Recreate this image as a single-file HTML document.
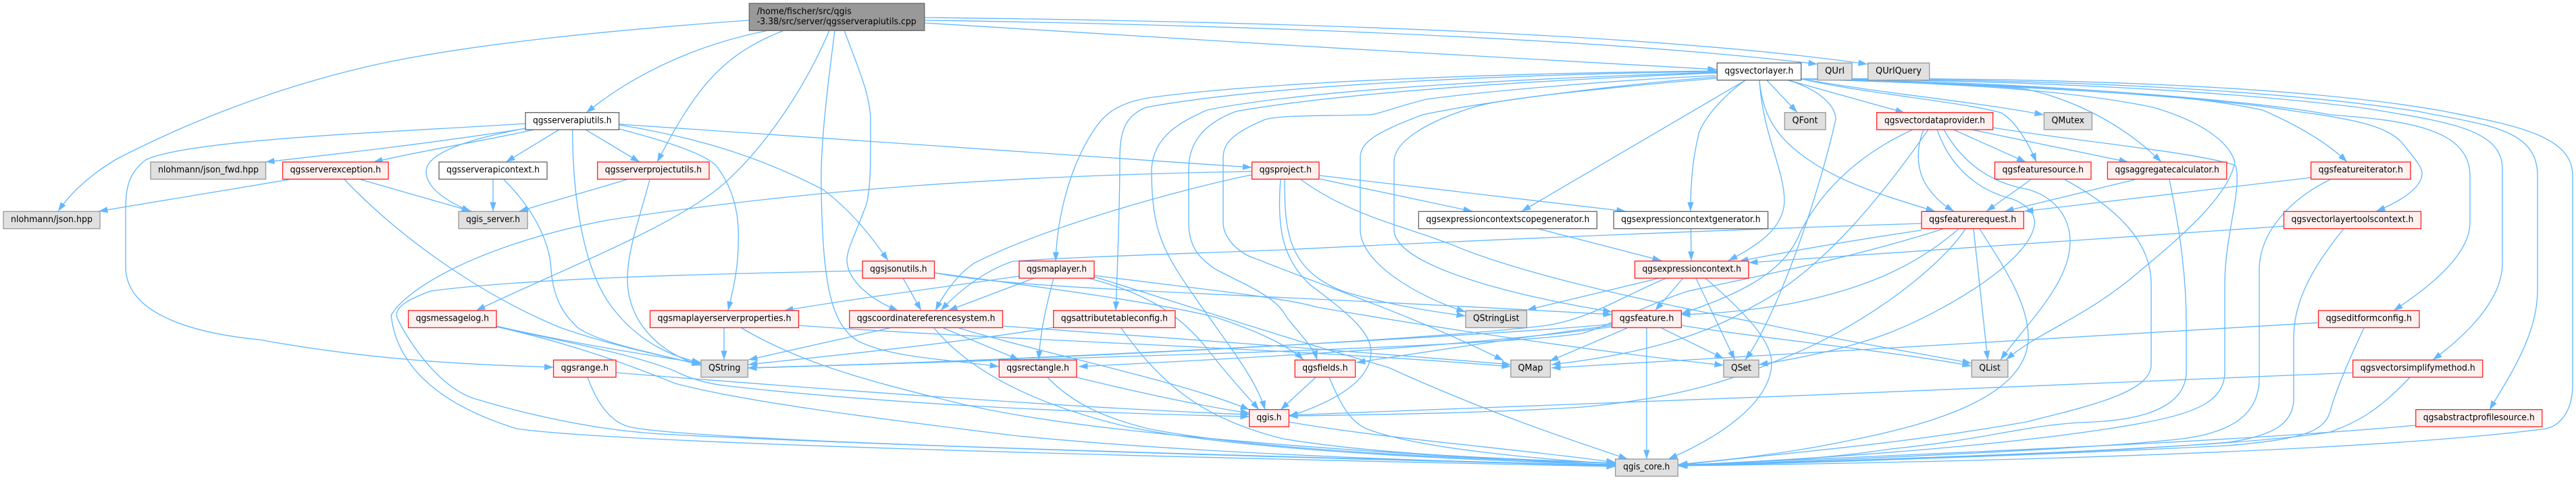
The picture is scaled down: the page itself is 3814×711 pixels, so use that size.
<!DOCTYPE html>
<html><head><meta charset="utf-8"><title>qgsserverapiutils.cpp include graph</title>
<style>
html,body{margin:0;padding:0;background:#fff}
svg{display:block}
.e path{fill:none;stroke:#63b8ff;stroke-width:1.33;marker-end:url(#a)}
rect{stroke-width:1.33}
.r{fill:#fff0f0;stroke:#ff2020}
.g{fill:#e0e0e0;stroke:#999}
.w{fill:#fff;stroke:#666}
.t{fill:#999;stroke:#666}
text{font-family:"DejaVu Sans","Liberation Sans",sans-serif;font-size:13px;fill:#000}
</style></head><body>
<svg xmlns="http://www.w3.org/2000/svg" width="3814" height="711" viewBox="0 0 3814 711">
<defs><marker id="a" markerUnits="userSpaceOnUse" viewBox="0 0 14 10" refX="13.5" refY="5" markerWidth="14" markerHeight="10" orient="auto"><path d="M0,.3L13.5,5L0,9.7Z" fill="#63b8ff"/></marker></defs>
<g class="e">
<!-- root -->
<path d="M1110,30C900,45 700,65 560,95C400,130 260,190 172,236C135,258 105,285 86,313"/>
<path d="M1138,45C1050,62 950,100 868,167"/>
<path d="M1161,45C1070,80 1030,130 973,240"/>
<path d="M1228,45C1190,135 1130,220 1072,272C1000,335 830,400 705,460"/>
<path d="M1236,45C1225,130 1214,220 1216,280C1218,420 1230,480 1270,505C1320,530 1400,532 1479,543"/>
<path d="M1250,45C1270,100 1289,140 1289,180C1289,230 1290,290 1280,310C1265,350 1254,370 1254,385C1254,415 1290,445 1330,460"/>
<path d="M1369,34C1700,55 2200,85 2542,103"/>
<path d="M1369,30C1900,38 2400,60 2691,95"/>
<path d="M1369,26C1900,32 2450,50 2765,95"/>
<!-- qgsserverapiutils -->
<path d="M780,190C640,212 500,228 393,240"/>
<path d="M791,192C700,212 630,222 553,240"/>
<path d="M828,192L749,240"/>
<path d="M867,192L947,240"/>
<path d="M778,190C700,205 631,225 631,254C631,280 665,300 697,313"/>
<path d="M778,183C600,195 290,205 217,236C190,255 186,280 186,310L186,395C186,470 300,495 383,503C560,535 700,540 819.5,544"/>
<path d="M847.6,192C848,280 860,400 910,460C950,510 1000,530 1038,537"/>
<path d="M917,191C970,205 1040,225 1060,245C1095,290 1094,340 1093,360C1093,400 1085,430 1078,460"/>
<path d="M917,185C1040,205 1130,235 1219,281C1270,320 1300,365 1315,386"/>
<path d="M917,184L1853.5,248"/>
<!-- exception / context / projectutils -->
<path d="M428,266L146,313"/>
<path d="M534,266L698,313"/>
<path d="M510,266C600,360 720,440 829,485C900,510 970,525 1038,540"/>
<path d="M730,266L730,313"/>
<path d="M746,266C800,320 815,370 816,400C820,450 840,470 855,485C890,510 980,525 1038,541"/>
<path d="M928,266L768.5,313"/>
<path d="M962,266C945,330 929,370 929,415C930,480 980,525 1038,541"/>
<!-- messagelog / range -->
<path d="M735,483C830,505 950,525 1038,538"/>
<path d="M735,484C830,505 940,525 1000,550C1030,565 1060,570 1080,572C1300,597 1600,612 1850,617"/>
<path d="M735,484C850,510 930,540 1000,568C1100,595 1300,620 1500,645C1800,675 2200,685 2392,690"/>
<path d="M912,552C1200,575 1600,605 1850,614"/>
<path d="M870,559C885,600 905,625 931,632C1000,650 1600,670 2392,690"/>
<!-- project -->
<path d="M1853,254C1500,260 1200,280 900,326C700,365 600,430 579,467C585,520 620,590 765,635C900,655 1600,675 2392,691"/>
<path d="M1853,259C1750,280 1550,335 1442,390C1420,405 1400,430 1385,460"/>
<path d="M1954,265L2180,313"/>
<path d="M1954,260L2407,313"/>
<path d="M1926,266C2000,320 2080,335 2151,363C2250,405 2430,445 2612,480C2730,505 2850,525 2919,538"/>
<path d="M1902,266C1902,340 1905,400 1990,432C2050,450 2110,460 2170,468"/>
<path d="M1896,266C1890,340 1900,385 1940,422C1990,460 2030,490 2030,521C2030,570 1960,600 1908,617"/>
<!-- jsonutils -->
<path d="M1277,401C1100,405 800,410 638,431C600,445 587,455 587,467C590,480 640,570 701,590C800,620 900,640 1000,644C1300,660 2000,680 2392,689"/>
<path d="M1337,412L1364,460"/>
<path d="M1383,404C1520,430 1800,432 2387,466"/>
<path d="M1383,404C1500,420 1700,445 1800,470C1860,490 1905,510 1930,533"/>
<!-- maplayer -->
<path d="M1509,409C1400,425 1280,440 1161,460"/>
<path d="M1531,412L1404,460"/>
<path d="M1560,412C1550,450 1540,490 1538,533"/>
<path d="M1611,412C1680,430 1740,455 1790,520C1825,565 1850,590 1864,607"/>
<path d="M1620,410C1750,450 1900,500 2055,544C2200,610 2320,650 2410,680"/>
<path d="M1620,408C1750,425 1900,440 1950,455C2150,490 2400,525 2552,541"/>
<!-- properties / crs / attribute -->
<path d="M1072,486L1072,533"/>
<path d="M1182,482C1500,505 1900,515 2237,543"/>
<path d="M1098,486C1190,540 1290,565 1402,593C1500,618 1700,655 2392,689"/>
<path d="M1321,485L1108,533"/>
<path d="M1397,486L1509,533"/>
<path d="M1420,486C1550,525 1750,565 1850,607"/>
<path d="M1383,486C1440,555 1540,600 1660,630C1800,662 2100,680 2392,688"/>
<path d="M1485,483C1650,495 1900,512 2237,540"/>
<path d="M1560,485C1400,510 1250,525 1108,540"/>
<path d="M1660,486C1720,570 1780,620 1900,650C2050,675 2250,680 2392,686"/>
<path d="M1594,559C1680,580 1770,600 1850,612"/>
<path d="M1551,559C1590,600 1640,620 1700,635C1850,665 2150,680 2392,686"/>
<path d="M1908,625C2050,650 2250,665 2392,685"/>
<path d="M1948,559L1896,607"/>
<path d="M1968,559C1985,600 2000,625 2023,635C2100,665 2280,680 2392,687"/>
<!-- vectorlayer left -->
<path d="M2542,105C2250,108 1880,120 1700,145C1660,152 1640,165 1625,185C1585,240 1565,320 1563,387"/>
<path d="M2542,106C2250,110 1880,125 1697,159C1665,172 1659,195 1658,230C1658,300 1655,380 1652,460"/>
<path d="M2542,107C2300,115 1950,130 1787,163C1750,180 1708,200 1705,250C1705,340 1720,370 1769,440C1810,500 1860,560 1873,607"/>
<path d="M2542,108C2300,118 2000,135 1830,165C1790,180 1760,205 1760,250L1760,330C1760,370 1780,385 1800,399C1850,425 1890,440 1905,470C1925,495 1945,515 1950,533"/>
<path d="M2540,112C2400,118 2200,135 2112,147C2060,160 2040,170 2025,170C1960,172 1900,170 1873,177C1830,195 1811,210 1811,233L1811,330C1811,350 1830,375 1864,385C1950,420 2100,470 2226,534"/>
<path d="M2541,114C2400,125 2200,150 2106,170C2040,195 2014,210 2014,233L2014,340C2014,390 2100,440 2170,462"/>
<path d="M2541,116C2400,128 2230,145 2188,157C2110,180 2064,210 2064,240L2064,340C2064,395 2250,440 2387,462"/>
<path d="M2584,119L2253,313"/>
<path d="M2584,119C2540,150 2514,190 2514,204C2505,240 2503,280 2503,313"/>
<path d="M2605,119C2610,200 2642,250 2642,299C2640,340 2600,365 2559,386"/>
<path d="M2605,119C2608,155 2620,185 2645,210C2700,265 2790,290 2865,313"/>
<path d="M2616,119L2661,166.5"/>
<path d="M2648,119C2700,135 2718,160 2718,177C2690,300 2630,470 2584,533"/>
<path d="M2648,119L2820,167"/>
<path d="M2667,117C2770,140 2900,150 2963,167C2985,180 3005,215 3015,240"/>
<path d="M2667,117C2800,140 2920,150 3026,170"/>
<path d="M2667,117C2800,120 2930,125 3000,132C3080,150 3150,190 3200,240"/>
<path d="M2667,117C2850,122 3050,130 3188,159C3260,180 3300,210 3309,240C3300,290 3230,350 3170,400C3090,470 3020,490 2970,533"/>
<path d="M2667,117C2900,125 3200,130 3350,163C3400,185 3445,210 3475,240"/>
<path d="M2667,117C2950,125 3250,140 3400,165C3500,178 3535,190 3555,210C3580,240 3587,250 3586,258C3585,280 3550,300 3518,313"/>
<path d="M2667,117C3000,120 3350,150 3450,170C3560,178 3657,190 3657,260L3657,330C3657,380 3590,430 3544,460"/>
<path d="M2667,117C3000,118 3300,135 3500,160C3620,180 3705,190 3705,250L3705,390C3705,450 3640,505 3602,533"/>
<path d="M2667,117C3000,116 3350,130 3580,165C3680,185 3757,190 3757,260L3757,430C3757,500 3710,565 3686,607"/>
<path d="M2667,117C3000,114 3400,125 3620,165C3720,185 3809,200 3809,260L3809,570C3809,610 3790,630 3770,635C3500,670 2900,685 2484,690"/>
<!-- vectordataprovider -->
<path d="M2832,192C2760,225 2700,275 2665,345C2640,410 2560,440 2489,465"/>
<path d="M2855,192C2790,285 2700,400 2597,453C2530,495 2430,525 2297,540"/>
<path d="M2848,192C2835,225 2838,260 2860,285C2870,298 2880,305 2893,313"/>
<path d="M2868,192C2885,240 2920,280 2980,295C3005,305 3015,320 3012,335C3000,390 2880,460 2800,492C2740,515 2670,530 2604,540"/>
<path d="M2878,192C2905,240 2945,270 3000,280C3040,290 3065,320 3065,358C3065,420 3000,480 2962,533"/>
<path d="M2892,192L2999.5,240"/>
<path d="M2919,192L3151,240"/>
<path d="M2950,189C3080,210 3250,225 3310,245C3320,280 3294,350 3294,420L3294,550C3294,590 3260,610 3180,625C3050,650 2800,675 2485,689"/>
<!-- featuresource / aggregate / iterator -->
<path d="M3007,266L2941,313"/>
<path d="M3057,266C3120,300 3185,350 3185,420L3185,540C3185,580 3100,600 3000,625C2800,660 2650,670 2485,689"/>
<path d="M3161,266L2968,313"/>
<path d="M3212,266C3225,330 3237,400 3237,480L3237,550C3237,590 3200,620 3100,625C3000,628 2950,650 2800,665C2700,680 2600,685 2485,689"/>
<path d="M3422,263L2997,313"/>
<path d="M3450,266C3390,295 3345,345 3345,400L3345,560C3345,610 3310,640 3230,650C3100,665 2750,680 2485,690"/>
<!-- featurerequest -->
<path d="M2845,331C2500,342 2100,360 1900,370C1750,376 1600,380 1500,387C1460,400 1420,430 1393,460"/>
<path d="M2845,341C2750,355 2660,370 2575,387"/>
<path d="M2877,339C2750,380 2600,410 2500,431C2440,450 2390,480 2342,494C2200,515 1600,530 1107,545"/>
<path d="M2900,339C2830,400 2750,430 2650,450C2590,460 2540,465 2489,466"/>
<path d="M2910,339C2870,400 2750,490 2629,535C2560,565 2480,590 2342,603C2200,612 2000,615 1908,616"/>
<path d="M2922,339L2943,533"/>
<path d="M2931,339C2970,400 3003,450 3003,500C3003,590 2850,630 2750,650C2650,672 2550,682 2485,688"/>
<!-- toolscontext / editform / simplify / profile -->
<path d="M3382,335L2589,389"/>
<path d="M3470,339C3420,400 3396,450 3396,500L3396,590C3396,625 3370,645 3300,655C3100,672 2750,682 2485,690"/>
<path d="M3433,478L2297,545"/>
<path d="M3500,486C3470,550 3455,590 3450,610C3440,640 3410,650 3300,660C3000,675 2700,685 2485,690"/>
<path d="M3484,552C3000,575 2400,595 1908,615"/>
<path d="M3568,559C3520,610 3490,625 3450,640C3300,665 2800,680 2485,690"/>
<path d="M3577,630C3300,655 2900,670 2485,689"/>
<!-- expression / feature -->
<path d="M2278,339L2460,386"/>
<path d="M2503.5,339L2504,386"/>
<path d="M2457,412L2261,459"/>
<path d="M2467,412C2400,440 2350,475 2282,483C2100,505 1500,535 1107,545"/>
<path d="M2492,412L2450.5,460"/>
<path d="M2511,412L2568.5,533"/>
<path d="M2525,412C2580,460 2625,505 2623,540C2620,600 2540,650 2470,680"/>
<path d="M2387,480C2200,498 1500,535 1107,545"/>
<path d="M2387,484C2200,510 1900,528 1597,543"/>
<path d="M2387,482C2250,500 2120,520 2008,537"/>
<path d="M2409,486L2294,535"/>
<path d="M2460,486L2552,531"/>
<path d="M2438,486L2438,680"/>
<path d="M2489,482C2600,500 2800,520 2919,542"/>
</g>
<!-- nodes -->
<rect class="t" x="1109.3" y="5" width="259.4" height="40.3"/><text x="1120.7" y="21" textLength="140" lengthAdjust="spacingAndGlyphs">/home/fischer/src/qgis</text><text x="1120.7" y="36" textLength="236" lengthAdjust="spacingAndGlyphs">-3.38/src/server/qgsserverapiutils.cpp</text>
<rect class="w" x="2542.3" y="93.3" width="124.4" height="25.4"/><text x="2553.5" y="109" textLength="101.7" lengthAdjust="spacingAndGlyphs">qgsvectorlayer.h</text>
<rect class="g" x="2691" y="93.3" width="51" height="25.4"/><text x="2702" y="109" textLength="29" lengthAdjust="spacingAndGlyphs">QUrl</text>
<rect class="g" x="2765.7" y="93.3" width="91" height="25.4"/><text x="2777" y="109" textLength="68" lengthAdjust="spacingAndGlyphs">QUrlQuery</text>
<rect class="w" x="778" y="166.7" width="138.5" height="25.4"/><text x="789" y="182.4" textLength="116.5" lengthAdjust="spacingAndGlyphs">qgsserverapiutils.h</text>
<rect class="g" x="2642.3" y="166.7" width="60.7" height="25.4"/><text x="2653.5" y="182.4" textLength="38" lengthAdjust="spacingAndGlyphs">QFont</text>
<rect class="r" x="2778.7" y="166.7" width="172" height="25.4"/><text x="2790" y="182.4" textLength="149" lengthAdjust="spacingAndGlyphs">qgsvectordataprovider.h</text>
<rect class="g" x="3026.4" y="166.7" width="71" height="25.4"/><text x="3037.5" y="182.4" textLength="48.5" lengthAdjust="spacingAndGlyphs">QMutex</text>
<rect class="g" x="223" y="240" width="170.5" height="25.4"/><text x="234" y="255.7" textLength="149" lengthAdjust="spacingAndGlyphs">nlohmann/json_fwd.hpp</text>
<rect class="r" x="418.5" y="240" width="156.5" height="25.4"/><text x="429.5" y="255.7" textLength="134.5" lengthAdjust="spacingAndGlyphs">qgsserverexception.h</text>
<rect class="w" x="650" y="240" width="160" height="25.4"/><text x="661" y="255.7" textLength="138" lengthAdjust="spacingAndGlyphs">qgsserverapicontext.h</text>
<rect class="r" x="884.6" y="240" width="165.4" height="25.4"/><text x="895.6" y="255.7" textLength="143.4" lengthAdjust="spacingAndGlyphs">qgsserverprojectutils.h</text>
<rect class="r" x="1853.6" y="240" width="99.4" height="25.4"/><text x="1864.6" y="255.7" textLength="77.4" lengthAdjust="spacingAndGlyphs">qgsproject.h</text>
<rect class="r" x="2953.5" y="240" width="142.5" height="25.4"/><text x="2964.5" y="255.7" textLength="120.5" lengthAdjust="spacingAndGlyphs">qgsfeaturesource.h</text>
<rect class="r" x="3120.4" y="240" width="176.4" height="25.4"/><text x="3131.4" y="255.7" textLength="154.4" lengthAdjust="spacingAndGlyphs">qgsaggregatecalculator.h</text>
<rect class="r" x="3421.6" y="240" width="147.4" height="25.4"/><text x="3432.6" y="255.7" textLength="125.4" lengthAdjust="spacingAndGlyphs">qgsfeatureiterator.h</text>
<rect class="g" x="5" y="313.3" width="143" height="25.4"/><text x="16" y="329" textLength="121" lengthAdjust="spacingAndGlyphs">nlohmann/json.hpp</text>
<rect class="g" x="679" y="313.3" width="102" height="25.4"/><text x="690" y="329" textLength="80" lengthAdjust="spacingAndGlyphs">qgis_server.h</text>
<rect class="w" x="2100.4" y="313.3" width="264" height="25.4"/><text x="2111.4" y="329" textLength="242" lengthAdjust="spacingAndGlyphs">qgsexpressioncontextscopegenerator.h</text>
<rect class="w" x="2389.3" y="313.3" width="228.3" height="25.4"/><text x="2400.3" y="329" textLength="206.3" lengthAdjust="spacingAndGlyphs">qgsexpressioncontextgenerator.h</text>
<rect class="r" x="2845" y="313.3" width="151.3" height="25.4"/><text x="2856" y="329" textLength="129.3" lengthAdjust="spacingAndGlyphs">qgsfeaturerequest.h</text>
<rect class="r" x="3381.5" y="313.3" width="203" height="25.4"/><text x="3392.5" y="329" textLength="181" lengthAdjust="spacingAndGlyphs">qgsvectorlayertoolscontext.h</text>
<rect class="r" x="1277" y="386.7" width="106.5" height="25.4"/><text x="1288" y="402.4" textLength="84.5" lengthAdjust="spacingAndGlyphs">qgsjsonutils.h</text>
<rect class="r" x="1509" y="386.7" width="111" height="25.4"/><text x="1520" y="402.4" textLength="89" lengthAdjust="spacingAndGlyphs">qgsmaplayer.h</text>
<rect class="r" x="2420.5" y="386.7" width="168.5" height="25.4"/><text x="2431.5" y="402.4" textLength="146.5" lengthAdjust="spacingAndGlyphs">qgsexpressioncontext.h</text>
<rect class="r" x="604.6" y="460" width="130.4" height="25.4"/><text x="615.6" y="475.7" textLength="108.4" lengthAdjust="spacingAndGlyphs">qgsmessagelog.h</text>
<rect class="r" x="962.5" y="460" width="220" height="25.4"/><text x="973.5" y="475.7" textLength="198" lengthAdjust="spacingAndGlyphs">qgsmaplayerserverproperties.h</text>
<rect class="r" x="1257.7" y="460" width="226.8" height="25.4"/><text x="1268.7" y="475.7" textLength="204.8" lengthAdjust="spacingAndGlyphs">qgscoordinatereferencesystem.h</text>
<rect class="r" x="1559.7" y="460" width="180.3" height="25.4"/><text x="1570.7" y="475.7" textLength="158.3" lengthAdjust="spacingAndGlyphs">qgsattributetableconfig.h</text>
<rect class="g" x="2170" y="460" width="90.5" height="25.4"/><text x="2181" y="475.7" textLength="68.5" lengthAdjust="spacingAndGlyphs">QStringList</text>
<rect class="r" x="2386.7" y="460" width="102.7" height="25.4"/><text x="2397.7" y="475.7" textLength="80.7" lengthAdjust="spacingAndGlyphs">qgsfeature.h</text>
<rect class="r" x="3432.6" y="460" width="149.4" height="25.4"/><text x="3443.6" y="475.7" textLength="127.4" lengthAdjust="spacingAndGlyphs">qgseditformconfig.h</text>
<rect class="r" x="819.5" y="533.3" width="92.5" height="25.4"/><text x="830.5" y="549" textLength="70.5" lengthAdjust="spacingAndGlyphs">qgsrange.h</text>
<rect class="g" x="1038" y="533.3" width="69.3" height="25.4"/><text x="1049" y="549" textLength="47.3" lengthAdjust="spacingAndGlyphs">QString</text>
<rect class="r" x="1479.3" y="533.3" width="114.7" height="25.4"/><text x="1490.3" y="549" textLength="92.7" lengthAdjust="spacingAndGlyphs">qgsrectangle.h</text>
<rect class="r" x="1917.3" y="533.3" width="89.3" height="25.4"/><text x="1928.3" y="549" textLength="67.3" lengthAdjust="spacingAndGlyphs">qgsfields.h</text>
<rect class="g" x="2236.9" y="533.3" width="58.6" height="25.4"/><text x="2247.5" y="549" textLength="37" lengthAdjust="spacingAndGlyphs">QMap</text>
<rect class="g" x="2552" y="533.3" width="52" height="25.4"/><text x="2563" y="549" textLength="30" lengthAdjust="spacingAndGlyphs">QSet</text>
<rect class="g" x="2919.3" y="533.3" width="53.6" height="25.4"/><text x="2930.3" y="549" textLength="31.6" lengthAdjust="spacingAndGlyphs">QList</text>
<rect class="r" x="3483.7" y="533.3" width="192.1" height="25.4"/><text x="3494.7" y="549" textLength="170.1" lengthAdjust="spacingAndGlyphs">qgsvectorsimplifymethod.h</text>
<rect class="r" x="1849.8" y="606.7" width="58.6" height="25.4"/><text x="1860.5" y="622.4" textLength="37" lengthAdjust="spacingAndGlyphs">qgis.h</text>
<rect class="r" x="3576.8" y="606.7" width="187" height="25.4"/><text x="3587.8" y="622.4" textLength="165" lengthAdjust="spacingAndGlyphs">qgsabstractprofilesource.h</text>
<rect class="g" x="2391.7" y="680" width="92.6" height="25.4"/><text x="2403.3" y="695.7" textLength="69" lengthAdjust="spacingAndGlyphs">qgis_core.h</text>
</svg>
</body></html>
